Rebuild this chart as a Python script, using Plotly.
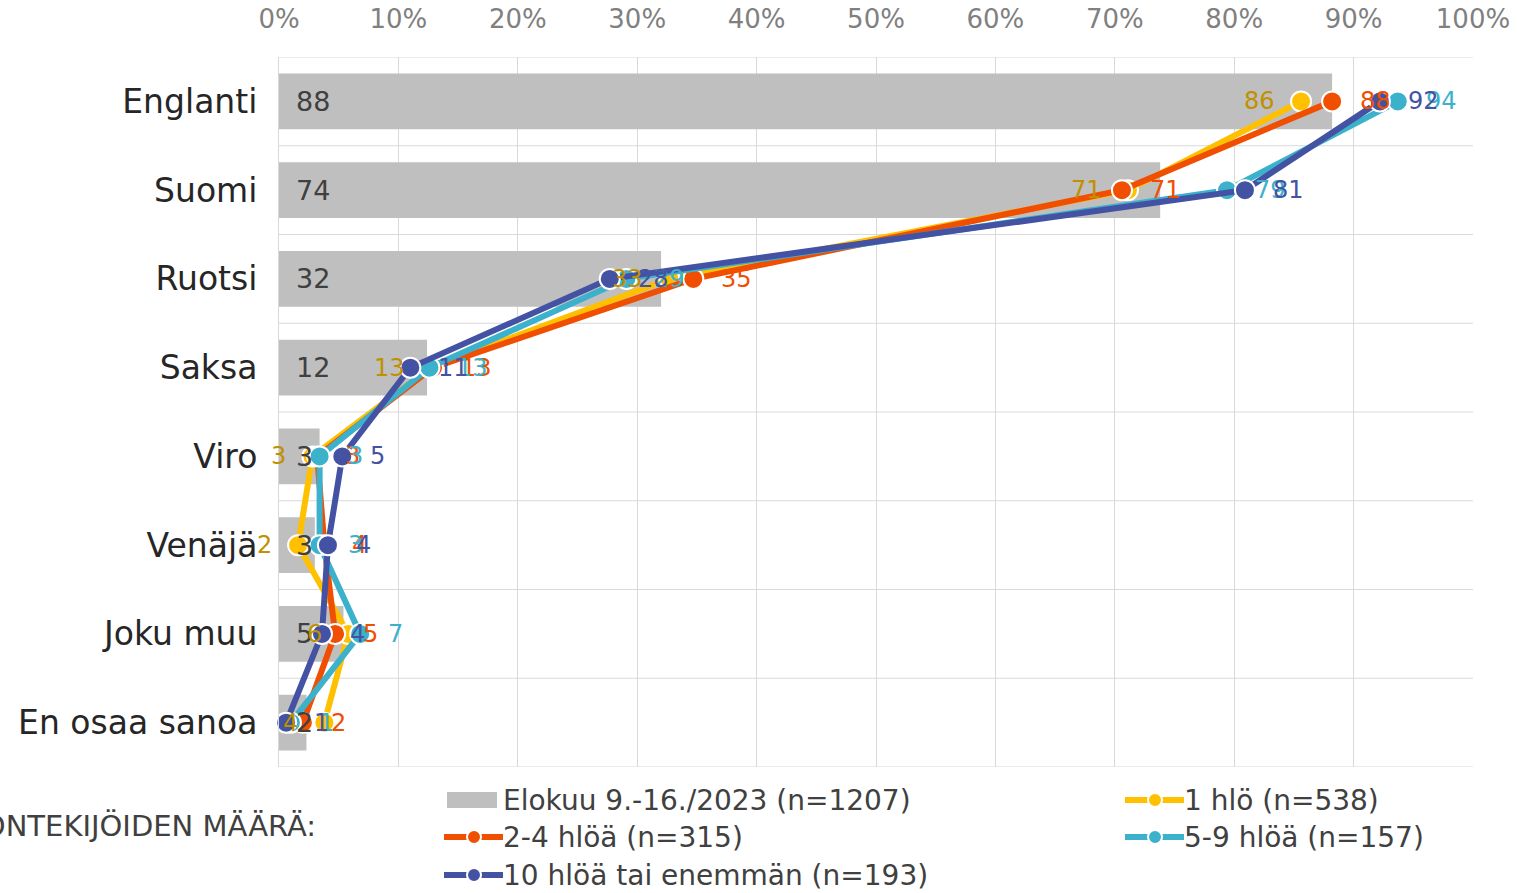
import plotly.graph_objects as go

# Languages (rows, top to bottom)
categories = ["Englanti", "Suomi", "Ruotsi", "Saksa", "Viro", "Venäjä", "Joku muu", "En osaa sanoa"]

# Shares in percent
elokuu_2023 = [88.2, 73.8, 32.0, 12.4, 3.4, 3.0, 5.4, 2.3]
hlo_1 = [85.6, 71.1, 32.7, 12.7, 2.8, 1.6, 5.8, 3.8]
hloa_2_4 = [88.2, 70.6, 34.7, 12.9, 3.2, 3.8, 4.7, 2.0]
hloa_5_9 = [93.7, 79.4, 29.1, 12.6, 3.4, 3.4, 6.8, 1.0]
hloa_10 = [92.2, 80.9, 27.7, 11.0, 5.3, 4.1, 3.6, 0.6]

x_ticks = list(range(0, 101, 10))

series_names = [
    "Elokuu 9.-16./2023 (n=1207)",
    "1 hlö (n=538)",
    "2-4 hlöä (n=315)",
    "5-9 hlöä (n=157)",
    "10 hlöä tai enemmän (n=193)",
]

GREY = "#BFBFBF"
YELLOW = "#FFC000"
ORANGE = "#F04E00"
CYAN = "#3CB1CB"
BLUE = "#4452A3"
TEXT = "#404040"
FONT = "DejaVu Sans"

# plot area in pixels
PL, PR, PT, PB = 279, 1473, 57, 767
W, H = 1517, 893


def px_x(px):
    return (px - PL) / (PR - PL)


def px_y(py):
    return (PB - py) / (PB - PT)


fig = go.Figure()

fig.add_trace(go.Bar(
    y=categories, x=elokuu_2023, orientation="h",
    marker=dict(color=GREY, line=dict(width=0)),
    width=0.63, name=series_names[0], showlegend=False,
    hoverinfo="x+y",
))

lines = [
    (hlo_1, YELLOW, "#BF9000", series_names[1], "left"),
    (hloa_2_4, ORANGE, ORANGE, series_names[2], "right"),
    (hloa_5_9, CYAN, CYAN, series_names[3], "right"),
    (hloa_10, BLUE, BLUE, series_names[4], "right"),
]

for vals, col, _, name, _ in lines:
    fig.add_trace(go.Scatter(
        y=categories, x=vals, mode="lines+markers", name=name,
        line=dict(color=col, width=6),
        marker=dict(size=20, color=col, line=dict(color="white", width=2)),
        showlegend=False, cliponaxis=False,
    ))

annotations = []

# value labels on the bars
for cat, v in zip(categories, elokuu_2023):
    annotations.append(dict(
        x=0, y=cat, xref="x", yref="y", text=f"{v:.0f}",
        xanchor="left", yanchor="middle", xshift=15, showarrow=False,
        font=dict(family=FONT, size=27, color=TEXT),
    ))

# value labels next to the line markers
for vals, _, lcol, _, side in lines:
    for cat, v in zip(categories, vals):
        annotations.append(dict(
            x=v, y=cat, xref="x", yref="y", text=f"{v:.0f}",
            xanchor="right" if side == "left" else "left",
            yanchor="middle",
            xshift=-24 if side == "left" else 26,
            showarrow=False,
            font=dict(family=FONT, size=24, color=lcol),
        ))

shapes = []
# row separators / frame
for i in range(len(categories) + 1):
    shapes.append(dict(
        type="line", xref="paper", yref="y", x0=0, x1=1,
        y0=i - 0.5, y1=i - 0.5, line=dict(color="#D9D9D9", width=1),
        layer="below",
    ))

# legend drawn below the plot
legend_items = [
    (series_names[0], "bar", GREY, 447, 800),
    (series_names[1], "line", YELLOW, 1128, 800),
    (series_names[2], "line", ORANGE, 447, 837),
    (series_names[3], "line", CYAN, 1128, 837),
    (series_names[4], "line", BLUE, 447, 875),
]
for name, kind, col, sx, sy in legend_items:
    if kind == "bar":
        shapes.append(dict(
            type="rect", xref="paper", yref="paper",
            x0=px_x(sx), x1=px_x(sx + 50), y0=px_y(sy - 8), y1=px_y(sy + 8),
            fillcolor=col, line=dict(width=0),
        ))
    else:
        shapes.append(dict(
            type="line", xref="paper", yref="paper",
            x0=px_x(sx - 3), x1=px_x(sx + 56), y0=px_y(sy), y1=px_y(sy),
            line=dict(color=col, width=6),
        ))
        cx = sx + 27
        shapes.append(dict(
            type="circle", xref="paper", yref="paper",
            x0=px_x(cx - 7), x1=px_x(cx + 7), y0=px_y(sy + 7), y1=px_y(sy - 7),
            fillcolor=col, line=dict(color="white", width=2),
        ))
    annotations.append(dict(
        x=px_x(sx + 54), y=px_y(sy), xref="paper", yref="paper",
        text=name, xanchor="left", yanchor="middle", showarrow=False,
        font=dict(family=FONT, size=28, color=TEXT),
    ))

annotations.append(dict(
    x=px_x(318), y=px_y(826), xref="paper", yref="paper",
    text="TYÖNTEKIJÖIDEN MÄÄRÄ:", xanchor="right", yanchor="middle",
    showarrow=False, font=dict(family=FONT, size=29, color=TEXT),
))

fig.update_layout(
    width=W, height=H,
    margin=dict(l=PL, r=W - PR, t=PT, b=H - PB, pad=0),
    paper_bgcolor="white", plot_bgcolor="white",
    showlegend=False,
    annotations=annotations, shapes=shapes,
    font=dict(family=FONT, color=TEXT),
    xaxis=dict(
        side="top", range=[0, 100], tickvals=x_ticks,
        ticktext=[f"{t}%" for t in x_ticks],
        showgrid=True, gridcolor="#D9D9D9", gridwidth=1,
        zeroline=False, showline=False, ticks="",
        tickfont=dict(family=FONT, size=26, color="#808080"),
        ticklabelstandoff=23, automargin=False,
    ),
    yaxis=dict(
        type="category", categoryorder="array", categoryarray=categories,
        range=[len(categories) - 0.5, -0.5],
        showgrid=False, zeroline=False, showline=True, linecolor="#D9D9D9",
        ticks="", ticklabelstandoff=14, automargin=False,
        tickfont=dict(family=FONT, size=33, color="#262626"),
    ),
)

fig.write_html("out.html")
